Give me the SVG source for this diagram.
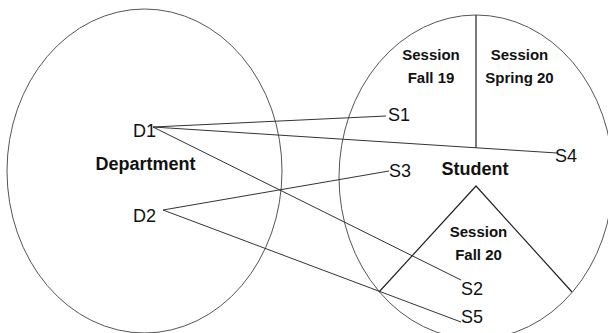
<svg xmlns="http://www.w3.org/2000/svg" width="608" height="333" viewBox="0 0 608 333">
<style>
.ell{fill:none;stroke:#555;stroke-width:1}
.div{fill:none;stroke:#222;stroke-width:1.2}
.con{fill:none;stroke:#333;stroke-width:1}
.lbl{font-family:"Liberation Sans",Arial,sans-serif;font-size:18px;fill:#111}
.b{font-family:"Liberation Sans",Arial,sans-serif;font-weight:bold;fill:#111}
</style>
<rect width="608" height="333" fill="#fff"/>
<g id="department">
<ellipse class="ell" cx="144.5" cy="171" rx="137.5" ry="162"/>
<text class="b" x="145.5" y="170" font-size="18" text-anchor="middle">Department</text>
</g>
<g id="student">
<ellipse class="ell" cx="476" cy="177" rx="137" ry="162"/>
<line class="div" x1="476" y1="15" x2="476" y2="148"/>
<polyline class="div" points="379,292 476,186 572,292"/>
<text class="b" x="475" y="175" font-size="18" text-anchor="middle">Student</text>
</g>
<g id="session-fall19">
<text class="b" x="431" y="60" font-size="15" text-anchor="middle">Session</text>
<text class="b" x="431" y="83" font-size="15" text-anchor="middle">Fall 19</text>
</g>
<g id="session-spring20">
<text class="b" x="519.5" y="60" font-size="15" text-anchor="middle">Session</text>
<text class="b" x="519.5" y="83" font-size="15" text-anchor="middle">Spring 20</text>
</g>
<g id="session-fall20">
<text class="b" x="478.5" y="237" font-size="15" text-anchor="middle">Session</text>
<text class="b" x="478.5" y="260" font-size="15" text-anchor="middle">Fall 20</text>
</g>
<g id="D1"><text class="lbl" x="133" y="137">D1</text></g>
<g id="D2"><text class="lbl" x="133" y="222">D2</text></g>
<g id="S1"><text class="lbl" x="388" y="121">S1</text></g>
<g id="S3"><text class="lbl" x="389" y="177">S3</text></g>
<g id="S4"><text class="lbl" x="555" y="162">S4</text></g>
<g id="S2"><text class="lbl" x="461" y="295">S2</text></g>
<g id="S5"><text class="lbl" x="461" y="323">S5</text></g>
<g id="connectors">
<line class="con" x1="153" y1="127" x2="386" y2="116"/>
<line class="con" x1="153" y1="127" x2="557" y2="153"/>
<line class="con" x1="153" y1="127" x2="461" y2="280"/>
<line class="con" x1="163" y1="210" x2="389" y2="171"/>
<line class="con" x1="163" y1="210" x2="461" y2="322"/>
</g>
</svg>
